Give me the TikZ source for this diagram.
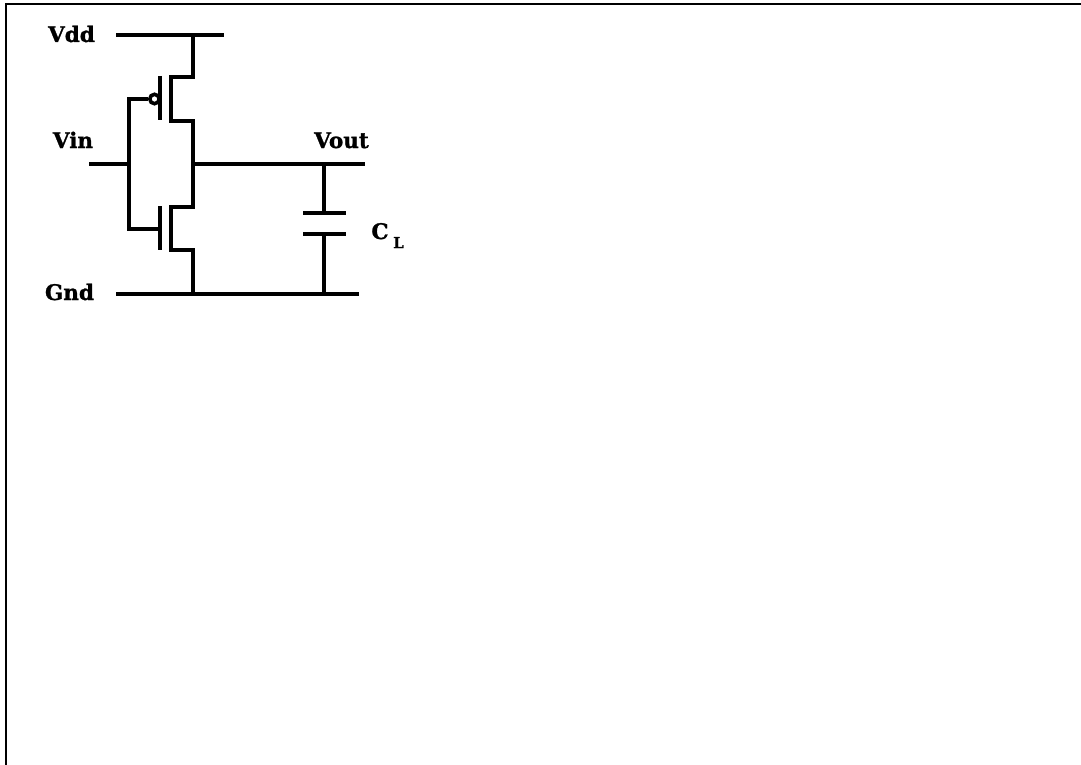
\documentclass[tikz,border=0pt]{standalone}
\usepackage{fontspec}
\setmainfont[BoldFeatures={FakeBold=1.2}]{DejaVu Serif}
\tikzset{
  wire/.style={line width=3.8pt,line cap=butt,line join=miter},
  frameline/.style={line width=2.2pt},
  lab/.style={inner sep=0pt,font=\fontsize{21.5}{22}\selectfont\bfseries,anchor=base},
  bubble/.style={circle,draw,line width=3.6pt,minimum size=9.4pt,inner sep=0pt,fill=white}
}
\begin{document}
\begin{tikzpicture}[x=1pt,y=-1pt]
\useasboundingbox (0,0) rectangle (1081,765);
\fill[white] (0,0) rectangle (1081,765);
% frame
\coordinate (fbl) at (5.6,765); \coordinate (ftl) at (5.6,4.3); \coordinate (ftr) at (1081,4.3);
\draw[frameline] (fbl) -- (ftl) -- (ftr);
% rails
\coordinate (vddL) at (116,35); \coordinate (vddR) at (224,35); \coordinate (vddT) at (193,35);
\coordinate (gndL) at (116,294); \coordinate (gndR) at (359,294); \coordinate (gndT) at (193,294); \coordinate (gndC) at (324,294);
\draw[wire] (vddL) -- (vddR);
\draw[wire] (gndL) -- (gndR);
% transistors' channels
\coordinate (pd) at (193,77); \coordinate (pdc) at (171,77); \coordinate (psc) at (171,121); \coordinate (ps) at (193,121);
\coordinate (nd) at (193,207); \coordinate (ndc) at (171,207); \coordinate (nsc) at (171,250); \coordinate (ns) at (193,250);
\draw[wire] (vddT) -- (pd) -- (pdc) -- (psc) -- (ps) -- (nd) -- (ndc) -- (nsc) -- (ns) -- (gndT);
% gates
\coordinate (gTop) at (129,99); \coordinate (gBot) at (129,229); \coordinate (ngI) at (160,229);
\node[bubble] (bub) at (154.5,99) {};
\draw[wire] (bub.west) -- (gTop) -- (gBot) -- (ngI);
% gate bars
\coordinate (pgT) at (160,76); \coordinate (pgB) at (160,120);
\draw[wire] (pgT) -- (pgB);
\coordinate (ngT) at (160,206); \coordinate (ngB) at (160,250);
\draw[wire] (ngT) -- (ngB);
% input / output
\coordinate (vinL) at (89,164); \coordinate (vinR) at (129,164);
\draw[wire] (vinL) -- (vinR);
\coordinate (outL) at (193,164); \coordinate (outR) at (365,164); \coordinate (outC) at (324,164);
\draw[wire] (outL) -- (outR);
% capacitor
\coordinate (c1) at (324,213); \coordinate (c2) at (324,234);
\coordinate (c1L) at (303,213); \coordinate (c1R) at (346,213);
\coordinate (c2L) at (303,234); \coordinate (c2R) at (346,234);
\draw[wire] (outC) -- (c1); \draw[wire] (c1L) -- (c1R);
\draw[wire] (c2L) -- (c2R); \draw[wire] (c2) -- (gndC);
% labels
\node[lab] (tvdd) at (71.5,42) {Vdd};
\node[lab] (tvin) at (73,148) {Vin};
\node[lab] (tvout) at (341.5,148) {Vout};
\node[lab] (tgnd) at (69.5,300) {Gnd};
\node[lab] (tc) at (380,239) {C};
\node[lab,font=\fontsize{15}{15}\selectfont\bfseries] (tl) at (398.5,248) {L};
\end{tikzpicture}
\end{document}
